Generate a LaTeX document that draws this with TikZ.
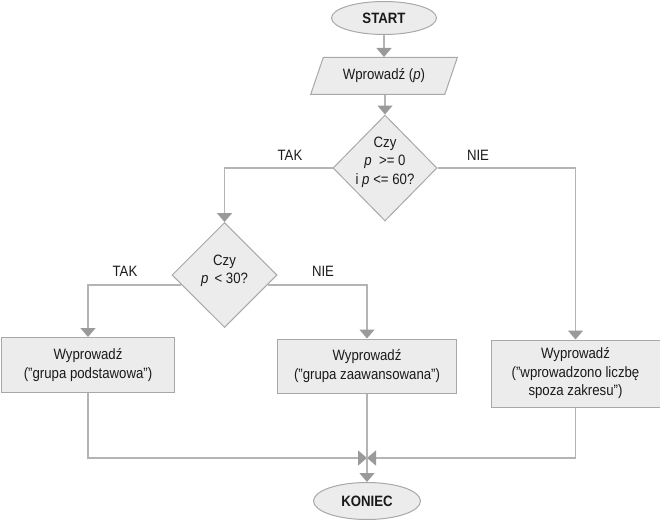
\documentclass[tikz,border=0pt]{standalone}
\usepackage{fontspec}
\setmainfont{Liberation Sans}[FakeStretch=0.88]
\usetikzlibrary{shapes.geometric,arrows.meta}
\definecolor{boxfill}{HTML}{ECECEC}
\definecolor{boxdraw}{HTML}{A8A8A8}
\definecolor{linec}{HTML}{B4B4B4}
\definecolor{arrc}{HTML}{9A9A9A}
\definecolor{txt}{HTML}{1A1A1A}
\tikzset{
  base/.style={fill=boxfill,draw=boxdraw,line width=1pt,inner sep=0pt,text=txt,font=\fontsize{15}{18.5}\selectfont,align=center},
  term/.style={base,ellipse,font=\fontsize{15}{18.5}\selectfont\bfseries},
  io/.style={base,trapezium,trapezium left angle=59,trapezium right angle=121,trapezium stretches=true},
  dec/.style={base,diamond},
  proc/.style={base,rectangle},
  txtnode/.style={text=txt,font=\fontsize{15}{18.5}\selectfont,align=center,inner sep=0pt},
  conn/.style={draw=linec,line width=1.5pt},
  arr/.style={conn,-{Triangle[width=15pt,length=9pt,fill=arrc,color=arrc]}},
}
\begin{document}
\begin{tikzpicture}[x=1pt,y=-1pt]
\useasboundingbox (0,0) rectangle (660,524);
\node[term,minimum width=105pt,minimum height=33pt] (start) at (384,18) {START};
\node[io,minimum width=148pt,minimum height=37pt] (input) at (384,76) {Wprowadź (\textit{p})};
\node[dec,minimum width=104pt,minimum height=106pt] (d1) at (385,168) {};
\node[txtnode] (d1t) at (385,162) {Czy\\\textit{p} \ >= 0\\i \textit{p} <= 60?};
\node[dec,minimum width=105pt,minimum height=105pt] (d2) at (224.5,275) {};
\node[txtnode] (d2t) at (224.5,271) {Czy\\\textit{p} \,< 30?};
\node[proc,minimum width=173pt,minimum height=55pt] (b1) at (88,365) {Wyprowadź\\("grupa podstawowa")};
\node[proc,minimum width=179pt,minimum height=54pt] (b2) at (367,366) {Wyprowadź\\("grupa zaawansowana")};
\node[proc,minimum width=169pt,minimum height=67pt] (b3) at (575.5,373.5) {Wyprowadź\\("wprowadzono liczbę\\spoza zakresu")};
\node[term,minimum width=107pt,minimum height=37pt] (koniec) at (367,501) {KONIEC};
\coordinate (merge) at (367,458);
\node[txtnode] (tak1) at (290,155) {TAK};
\node[txtnode] (nie1) at (478,155) {NIE};
\node[txtnode] (tak2) at (125,271) {TAK};
\node[txtnode] (nie2) at (323,271) {NIE};
\draw[arr] (start) -- (input);
\draw[arr] (input.south -| d1.north) -- (d1.north);
\draw[arr] (d1.west) -| (d2.north);
\draw[arr] (d1.east) -| (b3.north);
\draw[arr] (d2.193) -| (b1.north);
\draw[arr] (d2.-13) -| (b2.north);
\draw[arr] (b1.south) |- (merge);
\draw[arr] (b3.south) |- (merge);
\draw[conn] (b2.south) -- (merge);
\draw[arr] (merge) -- (koniec.north);
\end{tikzpicture}
\end{document}
